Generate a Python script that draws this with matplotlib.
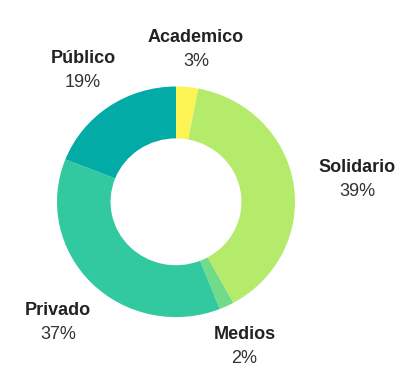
import matplotlib
matplotlib.use("Agg")
import matplotlib.pyplot as plt
import numpy as np

categories = ["Academico", "Solidario", "Medios", "Privado", "Público"]
values = [3, 39, 2, 37, 19]
colors = ["#fcf455", "#b4eb6b", "#72db8a", "#32c8a0", "#02aba6"]

W, H = 396, 379
SX = 1.032  # slight horizontal stretch of the ring seen in the reference
fig = plt.figure(figsize=(W / 100, H / 100), dpi=100)
ax = fig.add_axes([0, 0, 1, 1])
ax.axis("off")

cx_px, cy, R = 176, H - 201.8, 115.3
wedges, _ = ax.pie(values, colors=colors, startangle=90, counterclock=False,
                   center=(cx_px / SX, cy), radius=R,
                   wedgeprops=dict(width=R * 0.45, linewidth=0))
ax.set_xlim(0, W / SX)
ax.set_ylim(0, H)
ax.set_aspect("auto")

fig.canvas.draw()
renderer = fig.canvas.get_renderer()
total = sum(values)
for w, name, v in zip(wedges, categories, values):
    ang = np.deg2rad((w.theta1 + w.theta2) / 2)
    dx, dy = np.cos(ang), np.sin(ang)
    m = max(abs(dx), abs(dy))
    t1 = ax.text(0, 0, name, ha="center", va="baseline", fontsize=13,
                 fontweight="bold", color="#222222", family="Liberation Sans")
    t2 = ax.text(0, 0, f"{round(v / total * 100)}%", ha="center", va="baseline",
                 fontsize=13, color="#333333", family="Liberation Sans")
    hw = t1.get_window_extent(renderer).width / 2
    x = cx_px + dx * (65.6 + 3.06 * hw)
    y = cy + dy * 125 + 30 * dy / m
    t1.set_position((x / SX, y + 5.5))
    t2.set_position((x / SX, y - 18.5))

fig.savefig("out.png", dpi=100)
